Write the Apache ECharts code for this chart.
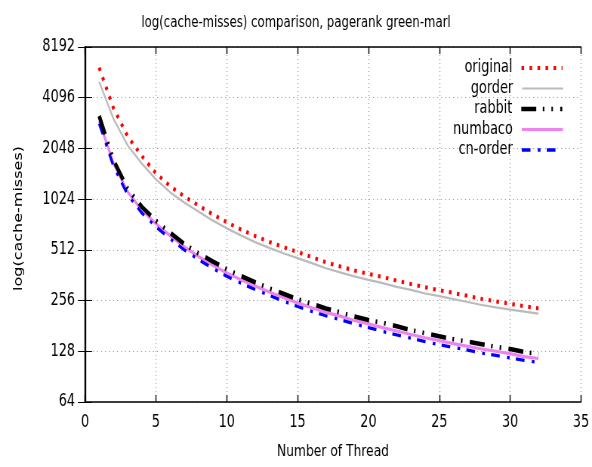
<!DOCTYPE html>
<html>
<head>
<meta charset="utf-8">
<script src="https://cdn.jsdelivr.net/npm/echarts@6/dist/echarts.min.js"></script>
<style>
html,body{margin:0;padding:0;background:#fff;}
#wrap{width:592px;height:467px;overflow:hidden;position:relative;}
#chart{width:784px;height:467px;transform:scaleX(0.7551);transform-origin:0 0;}
</style>
</head>
<body>
<div id="wrap"><div id="chart"></div></div>
<script>
// ---- data ----
const threads = [1,2,3,4,5,6,7,8,9,10,11,12,13,14,15,16,17,18,19,20,21,22,23,24,25,26,27,28,29,30,31,32];
const original = [6180,3565,2426,1850,1459,1224,1064,940,833,747,677,619,571,532,497,464,432,408,386,369,353,336,321,307,295,284,273,262,253,245,237,230];
const gorder   = [5100,3080,2140,1670,1343,1126,979,865,766,687,624,569,526,489,457,427,398,376,356,340,325,309,296,282,272,261,251,241,233,226,220,214];
const rabbit   = [3191,1752,1184,923,763,648,556,488,438,393,358,329,303,281,261,245,230,218,206,196,189,180,171,164,157,151,146,141,136,132,127,123];
const numbaco  = [2971,1681,1136,885,732,622,534,468,416,373,340,312,288,267,248,232,218,207,195,186,177,169,161,154,148,142,137,132,128,124,119,116];
const cnorder  = [2876,1613,1090,849,702,596,512,449,398,357,325,298,275,254,236,221,208,197,186,177,168,160,153,146,140,135,130,125,121,117,113,110];
const seriesNames = ['original','gorder','rabbit','numbaco','cn-order'];
const titleText = 'log(cache-misses) comparison, pagerank green-marl';
const xName = 'Number of Thread';
const yName = 'log(cache-misses)';

// ---- layout: the chart is drawn wide and squeezed horizontally (narrow type as in the reference) ----
const SX = 0.7551;              // horizontal squeeze applied by CSS
const h = v => v / SX;          // final horizontal px -> chart px
const FONT = 'DejaVu Sans';

const styles = [
  {color:'#ff0000', width:4.0, type:[h(2.6), h(5.4)]},
  {color:'#bbbbbb', width:2.2, type:'solid'},
  {color:'#000000', width:4.6, type:[h(15), h(6.5), h(1.6), h(7), h(1.6), h(7.3)]},
  {color:'#ee82ee', width:3.2, type:'solid'},
  {color:'#0000ff', width:3.3, type:[h(8.7), h(7.3), h(2.7), h(6.3)]}
];
const values = [original, gorder, rabbit, numbaco, cnorder];
const zOrder = [9, 6, 8, 5, 7];

const series = seriesNames.map((n,i)=>({
  name:n, type:'line', xAxisIndex:0, yAxisIndex:0,
  data: threads.map((t,k)=>[t, values[i][k]]),
  showSymbol:false, symbol:'none', smooth:false,
  lineStyle:{color:styles[i].color, width:styles[i].width, type:styles[i].type},
  itemStyle:{color:styles[i].color},
  z: zOrder[i]
}));

const legends = seriesNames.map((n,i)=>({
  data:[n], orient:'vertical', right:h(28), top:59.5 + i*20.5,
  align:'right', itemWidth:h(41), itemHeight:10, padding:0,
  textStyle:{fontFamily:FONT, fontSize:17, color:'#000', padding:[0,h(9)-5,0,0]},
  itemStyle:{opacity:0},
  lineStyle:{width:styles[i].width, opacity:1},
  selectedMode:false
}));

const hLine = {show:true, lineStyle:{color:'#000', width:1.6}};
const vLine = {show:true, lineStyle:{color:'#000', width:2.2}};
const xTick = {show:true, inside:true, length:7, lineStyle:{color:'#000', width:1.4}};
const yTick = {show:true, inside:true, length:h(7), lineStyle:{color:'#000', width:1}};

const option = {
  animation:false,
  backgroundColor:'#fff',
  title:{text:titleText, left:'center', top:9.5,
    textStyle:{fontFamily:FONT, fontSize:15.5, fontWeight:'normal', color:'#000'}},
  legend: legends,
  grid: {left:h(85), right:h(11), top:47, bottom:65, containLabel:false},
  xAxis:[
    {type:'value', min:0, max:35, interval:5, position:'bottom',
     name:xName, nameLocation:'middle', nameGap:42,
     nameTextStyle:{fontFamily:FONT, fontSize:16.3, color:'#000'},
     axisLine:hLine, axisTick:xTick,
     axisLabel:{fontFamily:FONT, fontSize:17, color:'#000', margin:12, formatter:v=>String(v)},
     splitLine:{show:true, lineStyle:{color:'#a0a0a0', width:1.3, type:[1,3]}}},
    {type:'value', min:0, max:35, interval:5, position:'top',
     axisLine:hLine, axisTick:xTick, axisLabel:{show:false}, splitLine:{show:false}}
  ],
  yAxis:[
    {type:'log', logBase:2, min:64, max:8192, splitNumber:7, position:'left',
     name:yName, nameLocation:'middle', nameGap:80, nameRotate:90,
     nameTextStyle:{fontFamily:FONT, fontSize:16, color:'#000', padding:[0,0,0,12]},
     axisLine:vLine, axisTick:yTick,
     axisLabel:{fontFamily:FONT, fontSize:17, color:'#000', margin:h(10), formatter:v=>String(Math.round(v))},
     splitLine:{show:true, lineStyle:{color:'#a0a0a0', width:1, type:[h(1), h(3)]}}},
    {type:'log', logBase:2, min:64, max:8192, splitNumber:7, position:'right',
     axisLine:vLine, axisTick:yTick, axisLabel:{show:false}, splitLine:{show:false}}
  ],
  series: series
};

const chart = echarts.init(document.getElementById('chart'), null, {renderer:'canvas'});
chart.setOption(option);
</script>
</body>
</html>
